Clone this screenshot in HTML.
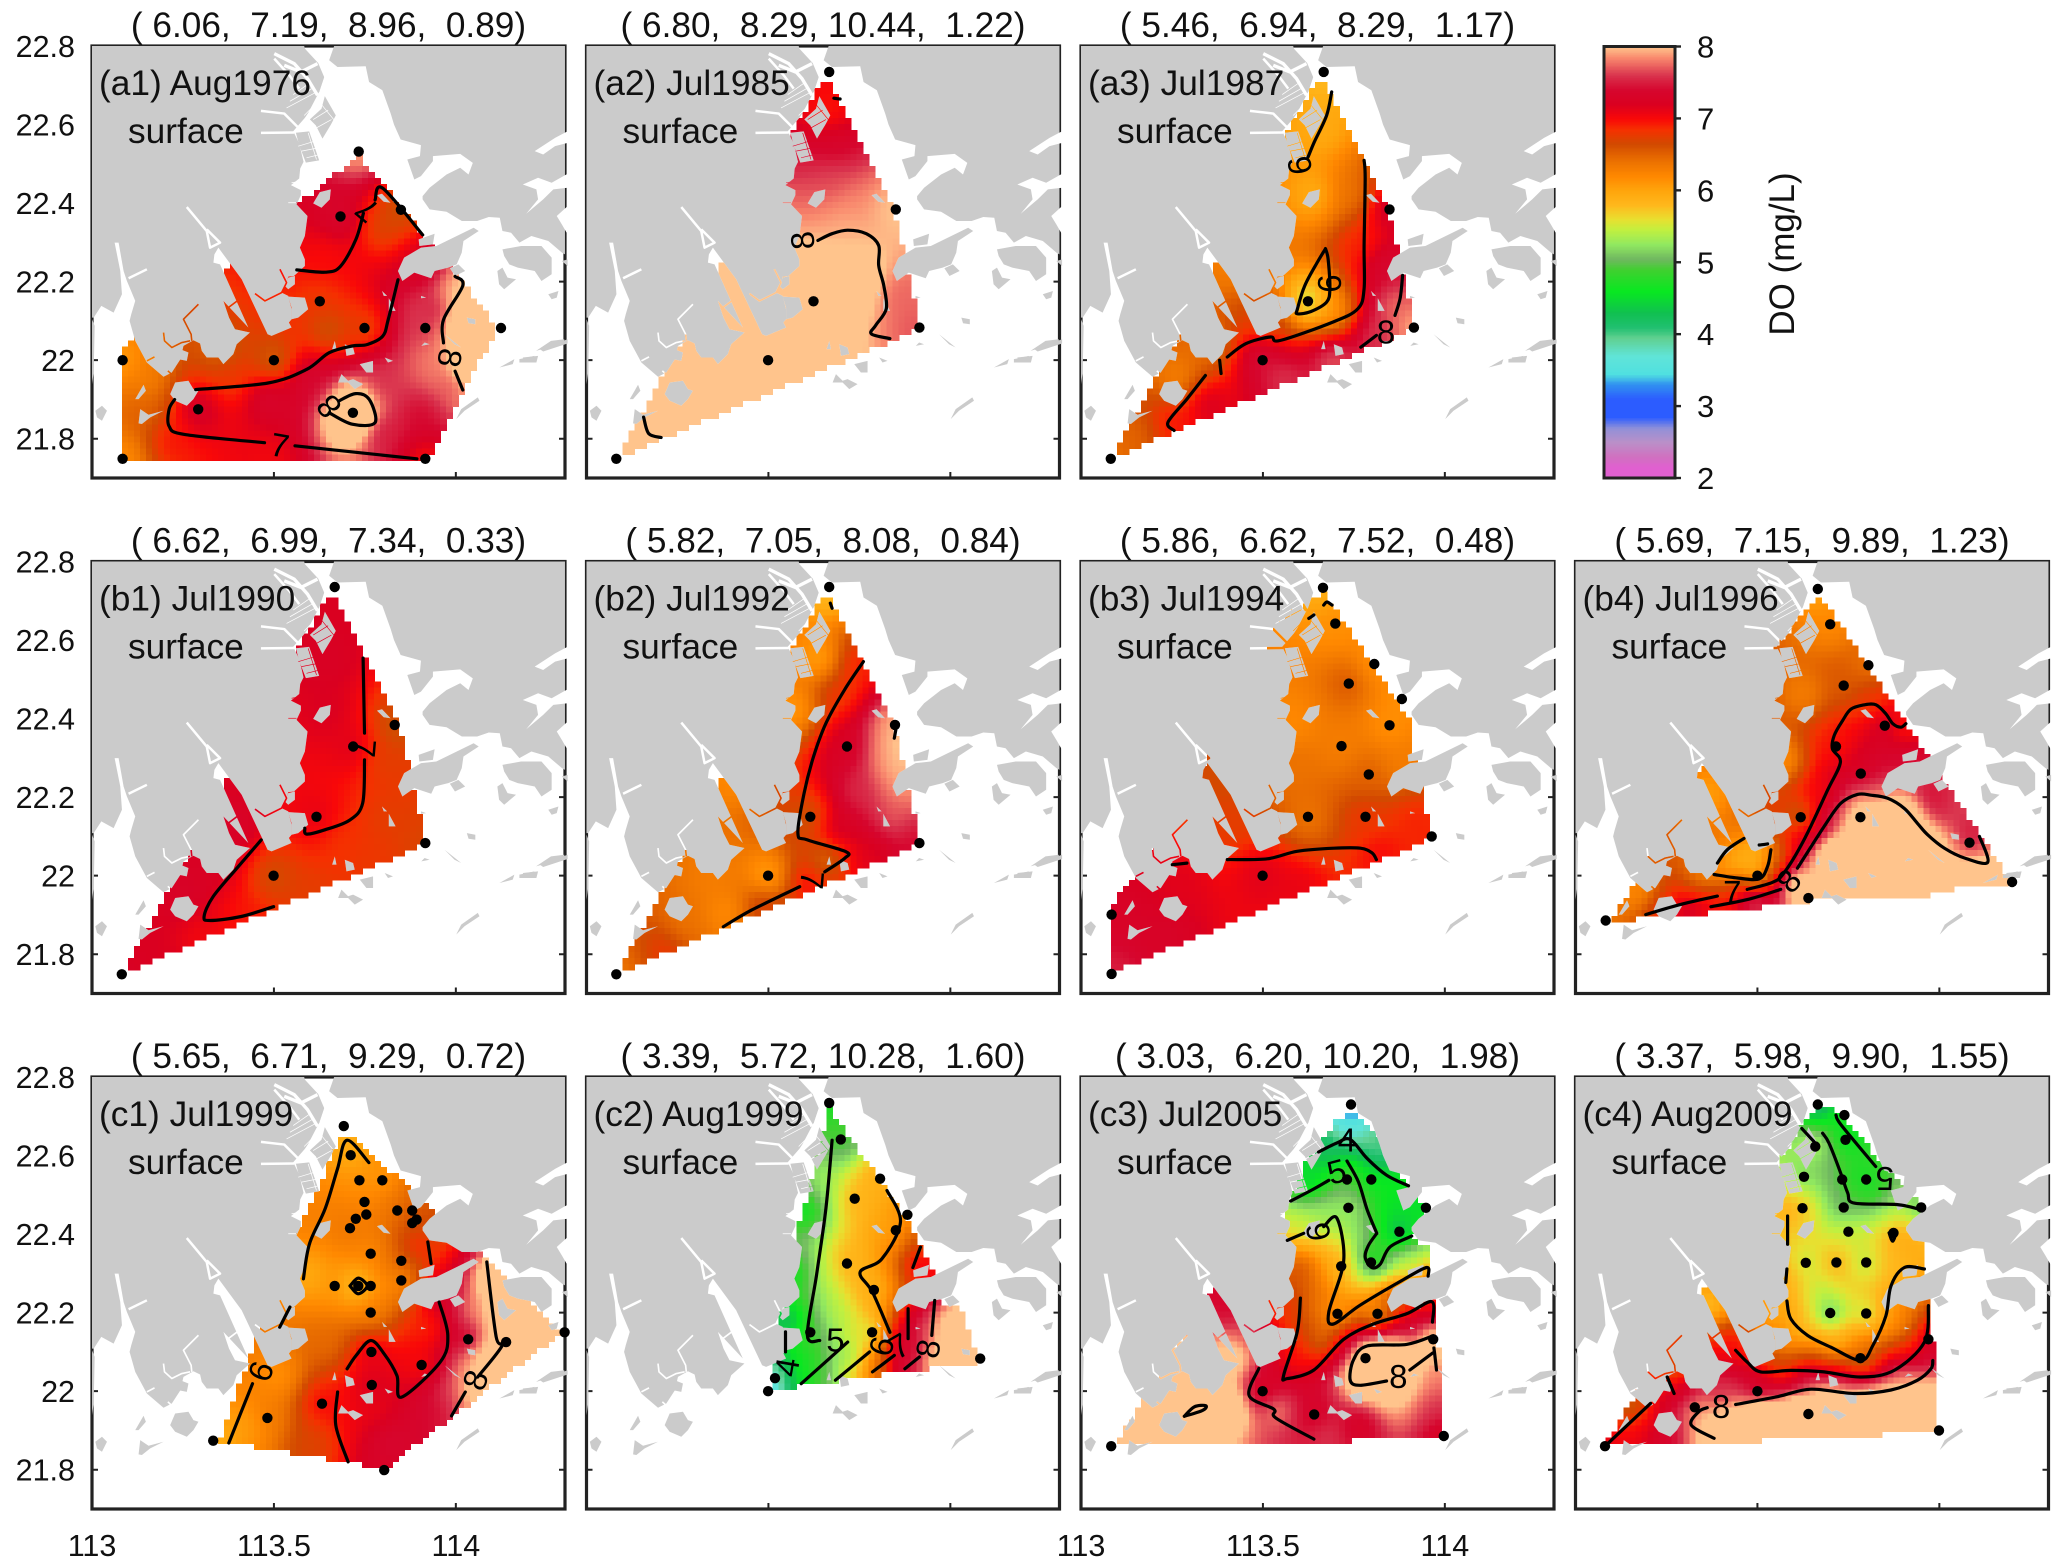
<!DOCTYPE html>
<html lang="en">
<head>
<meta charset="utf-8">
<title>Surface DO maps of the Pearl River Estuary</title>
<style>
html,body{margin:0;padding:0;background:#fff;}
svg{display:block;font-family:"Liberation Sans",sans-serif;}
.ttl{font-size:35.2px;text-anchor:middle;white-space:pre;fill:#111;}
.lbl{font-size:35.3px;white-space:pre;fill:#111;}
.tick{font-size:30.5px;fill:#111;}
.cl{font-size:33px;text-anchor:middle;fill:#000;}
</style>
</head>
<body>
<svg id="figure" xmlns="http://www.w3.org/2000/svg" width="2067" height="1568" viewBox="0 0 2067 1568">
<defs>
<g id="land">
<path d="M0,19 L638,19 L640,27 L680,70 L698,112 L683,157 L650,220 L640,235 L605,275 L623,312 L636,367 L626,387 L623,417 L598,437 L628,452 L628,467 L615,495 L648,530 L640,590 L625,625 L640,660 L640,680 L607,710 L590,712 L585,730 L570,760 L590,770 L600,810 L600,840 L592,850 L600,865 L540,890 L528,885 L450,720 L380,625 L368,645 L365,670 L385,675 L470,865 L395,785 L412,835 L430,870 L475,880 L435,915 L425,945 L395,975 L380,955 L345,955 L330,935 L325,913 L305,903 L275,920 L272,933 L290,940 L285,965 L245,957 L268,957 L240,1000 L215,1013 L165,970 L130,905 L113,845 L118,825 L130,785 L105,725 L95,695 L80,610 L68,610 L85,695 L90,765 L65,820 L28,800 L5,835 L0,835 Z"/>
<path d="M0,840 L8,860 L5,1000 L0,1035 Z"/>
<path d="M728,19 L1422,19 L1422,645 L1413,640 L1372,605 L1321,590 L1285,610 L1260,580 L1234,575 L1226,535 L1193,533 L1158,545 L1112,545 L1066,517 L1015,510 L994,480 L994,470 L1015,445 L1066,405 L1107,385 L1132,405 L1145,370 L1107,343 L1025,350 L1025,365 L989,410 L969,420 L948,360 L986,350 L989,317 L928,300 L908,255 L898,222 L873,152 L833,127 L823,80 L738,82 L713,62 Z"/>
<g transform="translate(448,17.5)">
<path d="M200,85 L250,95 L235,140 Z"/>
<path d="M207,222 L242,190 L252,152 L285,210 L270,238 L245,280 L225,240 Z"/>
<path d="M165,262 L205,258 L235,345 L195,352 L175,300 Z"/>
</g>
<g transform="translate(719,255) scale(1.02,1)">
<path d="M505,375 L560,365 L620,365 L650,400 L650,450 L620,470 L600,440 L550,430 L525,420 L510,395 Z"/>
<path d="M197,440 L215,400 L265,370 L310,365 L420,310 L435,320 L390,350 L385,385 L370,420 L345,430 L305,440 L295,462 L245,445 L210,470 Z"/>
<path d="M258,345 L305,328 L300,360 L260,365 Z"/>
<path d="M350,432 L375,420 L395,440 L365,455 Z M490,440 L505,430 L520,460 L545,465 L510,495 L495,480 Z M640,510 L670,500 L665,520 L650,525 Z M680,410 L697,405 L697,425 Z M135,212 L150,208 L175,235 L155,232 Z M150,500 L165,515 L155,515 Z M170,522 L190,560 L170,560 Z M265,515 L280,520 L265,522 Z M400,580 L425,585 L425,600 L405,597 Z M615,675 L697,645 L697,658 L625,682 Z M565,700 L610,695 L605,715 L570,715 Z"/>
<path fill="#fff" d="M600,80 L660,40 L697,20 L697,55 L660,65 L625,90 Z M565,180 L610,160 L650,175 L697,148 L697,190 L655,195 L625,225 L575,268 L610,225 L605,195 Z M665,275 L697,245 L697,330 L680,300 Z"/>
</g>
<path d="M665,492 L685,458 L718,450 L715,480 L690,505 Z M590,772 L640,775 L650,810 L620,835 L600,840 L600,805 Z M580,740 L590,715 L610,710 L610,735 L590,750 Z M760,915 L785,925 L790,945 L765,950 Z M722,930 L730,905 L735,930 Z M235,1065 L250,1030 L290,1025 L305,1050 L320,1055 L305,1080 L285,1100 L250,1085 Z M130,1080 L155,1037 L162,1055 L140,1080 Z M140,1153 L145,1110 L170,1127 L215,1115 L175,1135 L150,1155 Z M10,1115 L30,1100 L45,1115 L30,1145 L15,1135 Z M740,1030 L750,1005 L770,1025 L785,1020 L815,1035 L790,1050 L770,1030 Z M805,975 L845,965 L845,1000 L825,1000 Z M880,955 L905,965 L890,970 Z M1000,910 L1015,915 L990,920 Z M1060,885 L1110,925 L1090,915 Z M1335,935 L1380,905 L1420,900 L1420,912 L1370,925 Z M1285,960 L1330,950 L1325,970 L1285,970 Z M1225,985 L1270,960 L1265,975 Z M1095,1140 L1110,1110 L1160,1075 L1165,1085 L1120,1115 Z"/>
<g fill="none" stroke="#fff" stroke-linejoin="round">
<path stroke-width="10" d="M548,42 L608,72 L648,117 L678,167 M578,77 L628,97 L678,72"/>
<path stroke-width="7.5" d="M548,57 L593,107 L623,147 M508,214 L578,222 L618,262 M508,280 L608,279 M285,503 L345,575 L355,625 L385,610 L345,570 M110,717 L165,690"/>
<path stroke-width="5" d="M565,690 L585,730 L570,760 L520,785 L490,763 M410,805 L450,775 M320,795 L275,840 L298,885 L300,905 M215,880 L218,905 L240,925 L270,910 L295,905 M165,965 L188,953 M228,995 L255,1020"/>
<path stroke-width="2.2" d="M605,165 L655,130 M595,185 L665,145 M585,205 L670,160 M638,228 L683,182 M665,240 L710,212 M675,265 L720,240 M690,195 L735,250 M620,320 L670,305 M630,335 L680,325 M645,355 L685,345 M650,280 L675,360 M600,430 L630,425 M590,490 L615,490"/>
</g>
</g>
<mask id="water" maskUnits="userSpaceOnUse" x="0" y="0" width="473" height="432">
<rect width="473" height="432" fill="#fff"/>
<use href="#land" transform="scale(.3326,.3328) translate(0,-19)" fill="#000"/>
</mask>
</defs>

<g id="p-a1" transform="translate(92,46)"><text class="ttl" x="236.5" y="-9">( 6.06,  7.19,  8.96,  0.89)</text><text class="lbl" x="7" y="49">(a1) Aug1976</text><text class="lbl" x="36" y="97">surface</text></g>
<g id="p-a2" transform="translate(586.5,46)"><text class="ttl" x="236.5" y="-9">( 6.80,  8.29, 10.44,  1.22)</text><text class="lbl" x="7" y="49">(a2) Jul1985</text><text class="lbl" x="36" y="97">surface</text></g>
<g id="p-a3" transform="translate(1081,46)"><text class="ttl" x="236.5" y="-9">( 5.46,  6.94,  8.29,  1.17)</text><text class="lbl" x="7" y="49">(a3) Jul1987</text><text class="lbl" x="36" y="97">surface</text></g>
<g id="p-b1" transform="translate(92,561.5)"><text class="ttl" x="236.5" y="-9">( 6.62,  6.99,  7.34,  0.33)</text><text class="lbl" x="7" y="49">(b1) Jul1990</text><text class="lbl" x="36" y="97">surface</text></g>
<g id="p-b2" transform="translate(586.5,561.5)"><text class="ttl" x="236.5" y="-9">( 5.82,  7.05,  8.08,  0.84)</text><text class="lbl" x="7" y="49">(b2) Jul1992</text><text class="lbl" x="36" y="97">surface</text></g>
<g id="p-b3" transform="translate(1081,561.5)"><text class="ttl" x="236.5" y="-9">( 5.86,  6.62,  7.52,  0.48)</text><text class="lbl" x="7" y="49">(b3) Jul1994</text><text class="lbl" x="36" y="97">surface</text></g>
<g id="p-b4" transform="translate(1575.5,561.5)"><text class="ttl" x="236.5" y="-9">( 5.69,  7.15,  9.89,  1.23)</text><text class="lbl" x="7" y="49">(b4) Jul1996</text><text class="lbl" x="36" y="97">surface</text></g>
<g id="p-c1" transform="translate(92,1077)"><text class="ttl" x="236.5" y="-9">( 5.65,  6.71,  9.29,  0.72)</text><text class="lbl" x="7" y="49">(c1) Jul1999</text><text class="lbl" x="36" y="97">surface</text></g>
<g id="p-c2" transform="translate(586.5,1077)"><text class="ttl" x="236.5" y="-9">( 3.39,  5.72, 10.28,  1.60)</text><text class="lbl" x="7" y="49">(c2) Aug1999</text><text class="lbl" x="36" y="97">surface</text></g>
<g id="p-c3" transform="translate(1081,1077)"><text class="ttl" x="236.5" y="-9">( 3.03,  6.20, 10.20,  1.98)</text><text class="lbl" x="7" y="49">(c3) Jul2005</text><text class="lbl" x="36" y="97">surface</text></g>
<g id="p-c4" transform="translate(1575.5,1077)"><text class="ttl" x="236.5" y="-9">( 3.37,  5.98,  9.90,  1.55)</text><text class="lbl" x="7" y="49">(c4) Aug2009</text><text class="lbl" x="36" y="97">surface</text></g>

<g id="colorbar"></g>
<text transform="translate(1794,254) rotate(-90)" text-anchor="middle" font-size="35" fill="#111">DO (mg/L)</text>
<g id="axis-labels"></g>
</svg>

<script>
// Colour scale
const cmapValues=[2,2.03,2.15,2.3,2.5,2.7,2.85,3.1,3.3,3.45,3.7,3.95,4.1,4.3,4.6,4.9,5.05,5.25,5.45,5.6,5.8,6,6.2,6.4,6.65,6.85,7,7.2,7.4,7.6,7.85,8];
const cmapColors=["#f0c0f0","#e060d0","#e060d0","#d070c0","#ba90c8","#9090d8","#2c5cff","#2c5cff","#3090f0","#50e0e0","#60e4d8","#60d090","#20c070","#10c050","#08e820","#40d030","#70b860","#90e860","#c0f040","#e8e030","#ffb81c","#ffa50c","#ff8800","#ec7200","#d24a00","#f53000","#f90808","#da0020","#d6062e","#d9324d","#f98a6e","#ffc48c"];
const colorbarTicks=[2,3,4,5,6,7,8];
const lonTicks=[113,113.5,114];
const latTicks=[22.8,22.6,22.4,22.2,22,21.8];
const lonTickLabels=["113","113.5","114"];
const latTickLabels=["22.8","22.6","22.4","22.2","22","21.8"];

// Shared water domains (lon,lat pairs)
const domainEstuary=[113.658,22.72,113.7,22.65,113.84,22.386,113.872,22.275,113.915,22.08,113.082,21.749,113.214,21.97,113.274,22.063,113.368,22.25,113.581,22.606];

// a1 Aug 1976
const a1Stations=13;
const a1Lon=[113.733,113.683,113.849,113.626,113.749,113.916,114.124,113.084,113.5,113.292,113.717,113.084,113.916,113.222,113.8,113.484,113.149,113.904,113.987,113.8,113.904,113.484,113.8,113.642,113.95,113.38,114.05,114.03,114.03,114,113.95,114.08,113.35,113.15,113.65,113.6];
const a1Lat=[22.531,22.366,22.383,22.15,22.082,22.082,22.082,22,22,21.875,21.866,21.749,21.749,21.798,21.942,21.9,21.875,22.239,21.942,21.815,21.858,21.748,22.34,22.256,22,21.96,22.05,22.12,21.99,22.17,22.13,22.08,22.02,21.95,22.08,21.95];
const a1DO=[7.9,7.35,6.6,6.8,6.75,7.6,8.3,6.1,6.55,7.3,8.96,6.2,7,6.95,7.6,7.35,6.5,7.2,7.7,7.5,7.4,7.05,6.7,7,7.8,6.8,8.6,8.6,8.5,8,7.5,8.8,6.5,6.3,6.6,7.4];
const a1Domain=[113.086,21.743,113.919,21.743,114.113,22.082,113.987,22.239,113.909,22.319,113.733,22.522,113.558,22.391,113.379,22.243,113.086,22.036];
const a1Contours=[[113.563,22.23,113.642,22.224,113.683,22.239,113.725,22.307,113.746,22.374],[113.778,22.408,113.799,22.438,113.909,22.319],[113.841,22.205,113.814,22.103,113.799,22.061,113.757,22.04,113.715,22.036,113.652,22.019,113.589,21.976,113.484,21.942,113.285,21.925],[113.227,21.9,113.212,21.875,113.212,21.832,113.254,21.811,113.474,21.79],[113.558,21.782,113.893,21.749],[113.678,21.896,113.725,21.915,113.762,21.9,113.778,21.841,113.715,21.837,113.652,21.866],[113.998,22.213,114.019,22.19,113.966,22.103,113.966,22.044],[113.998,21.972,114.019,21.924]];
const a1LabelLon=[113.757,113.516,113.652,113.982];
const a1LabelLat=[22.383,21.782,21.883,22.006];
const a1LabelText=["7","7","8","8"];
const a1LabelAngle=[-140,10,-130,100];

// a2 Jul 1985
const a2Stations=6;
const a2Lon=[113.667,113.85,113.624,113.499,113.915,113.082,113.667,113.684,113.684,113.718,113.718,113.872,113.718,113.342,113.171];
const a2Lat=[22.734,22.384,22.15,22,22.083,21.749,22.632,22.547,22.462,22.394,22.335,22.157,22.207,21.954,21.83];
const a2DO=[7,8,8.3,8.5,7.7,8.2,6.95,7.35,7.65,7.85,7.95,7.75,8.4,8.5,8.3];
const a2Contours=[[113.636,22.305,113.675,22.322,113.718,22.331,113.769,22.322,113.803,22.292,113.803,22.241,113.817,22.19,113.824,22.131,113.795,22.089,113.783,22.067,113.834,22.055],[113.157,21.855,113.171,21.813,113.205,21.803],[113.68,22.667,113.697,22.665]];
const a2LabelLon=[113.595];
const a2LabelLat=[22.305];
const a2LabelText=["8"];
const a2LabelAngle=[-95];

// a3 Jul 1987
const a3Stations=6;
const a3Lon=[113.667,113.848,113.624,113.499,113.915,113.082,113.658,113.641,113.744,113.778,113.829,113.692,113.521,113.35,113.265,113.35,113.556,113.863,113.692,113.812,113.145,113.402,113.256];
const a3Lat=[22.734,22.384,22.15,22,22.083,21.749,22.59,22.42,22.42,22.292,22.25,22.123,22.097,22.038,21.953,21.885,21.953,22.14,22,22.063,21.8,22.25,21.842];
const a3DO=[5.8,7.3,5.5,7.45,7.95,6.4,5.95,5.95,6.4,6.9,7.4,6.1,6.7,6.4,6.3,7.2,7.6,7.75,7.7,7.6,6.5,6.3,6.95];
const a3Contours=[[113.689,22.683,113.675,22.623,113.641,22.555,113.624,22.517],[113.672,22.284,113.65,22.25,113.615,22.19,113.595,22.131,113.595,22.118,113.632,22.124,113.675,22.148,113.684,22.182,113.679,22.258,113.672,22.284],[113.778,22.509,113.781,22.462,113.778,22.292,113.778,22.182,113.761,22.131,113.692,22.097,113.547,22.05,113.521,22.059,113.453,22.042,113.402,22.008],[113.381,22,113.385,21.966],[113.342,21.961,113.291,21.901,113.239,21.842,113.256,21.821],[113.884,22.216,113.877,22.157,113.863,22.114],[113.812,22.063,113.769,22.033]];
const a3LabelLon=[113.602,113.684,113.838];
const a3LabelLat=[22.496,22.195,22.071];
const a3LabelText=["6","6","8"];
const a3LabelAngle=[-100,-90,0];

// b1 Jul 1990
const b1Stations=7;
const b1Lon=[113.667,113.832,113.718,113.617,113.916,113.499,113.082,113.65,113.65,113.803,113.821,113.684,113.393,113.256,113.342,113.598,113.427,113.308,113.171,113.752];
const b1Lat=[22.735,22.384,22.329,22.15,22.083,22,21.749,22.55,22.422,22.295,22.142,22.083,22.125,21.955,22.04,21.955,21.887,21.845,21.803,22.04];
const b1DO=[7.2,6.6,7.15,7.1,6.7,6.65,7.25,7.25,7.2,6.75,6.75,6.85,7.3,7.3,7.25,6.75,6.95,7.05,7.2,6.8];
const b1Contours=[[113.745,22.554,113.749,22.363],[113.749,22.295,113.744,22.185,113.709,22.142,113.641,22.117,113.59,22.106,113.585,22.121],[113.465,22.091,113.402,22.023,113.333,21.947,113.308,21.896,113.325,21.886,113.41,21.896,113.499,21.921]];
const b1LabelLon=[113.747];
const b1LabelLat=[22.325];
const b1LabelText=["7"];
const b1LabelAngle=[95];

// b2 Jul 1992
const b2Stations=7;
const b2Lon=[113.667,113.848,113.716,113.615,113.915,113.499,113.082,113.641,113.573,113.692,113.744,113.829,113.863,113.744,113.692,113.846,113.778,113.658,113.35,113.385,113.265,113.487,113.607,113.402,113.222,113.86,113.87];
const b2Lat=[22.735,22.384,22.329,22.15,22.083,22,21.749,22.55,22.422,22.465,22.533,22.32,22.278,22.21,22.125,22.159,22.04,22.04,21.998,21.904,21.87,21.921,21.981,22.252,21.811,22.33,22.23];
const b2DO=[5.8,7.95,7.25,6.6,7.4,6.05,6.4,6.05,6.1,6.8,6.9,7.9,8,7.55,7.25,7.7,7.15,6.5,6.3,6.2,6.4,6.75,7,6.2,6.8,8.1,7.9];
const b2Contours=[[113.761,22.545,113.709,22.473,113.658,22.388,113.624,22.303,113.598,22.21,113.581,22.108,113.607,22.091,113.713,22.061,113.709,22.044,113.655,22.01],[113.586,21.972,113.453,21.912,113.376,21.87],[113.85,22.371,113.846,22.35],[113.67,22.694,113.675,22.681]];
const b2LabelLon=[113.619];
const b2LabelLat=[21.989];
const b2LabelText=["7"];
const b2LabelAngle=[95];

// b3 Jul 1994
const b3Stations=14;
const b3Lon=[113.665,113.699,113.806,113.736,113.882,113.848,113.716,113.791,113.624,113.782,113.964,113.499,113.084,113.084,113.823,113.914,113.274,113.594,113.229,113.411,113.393,113.585,113.585,113.878];
const b3Lat=[22.733,22.642,22.539,22.489,22.45,22.383,22.33,22.258,22.15,22.15,22.1,22,21.901,21.75,22.053,22.138,21.969,21.969,21.858,22.138,22.257,22.274,22.392,22.291];
const b3DO=[5.9,6.15,6.15,6.55,6.15,6.15,6.3,6.5,6.4,6.8,6.9,7.15,7.3,7.5,7,6.9,7.15,7.1,7.3,6.75,6.65,6.4,6.2,6.3];
const b3Domain=[113.667,22.723,113.9,22.4,113.914,22.308,113.941,22.223,113.955,22.092,113.087,21.755,113.087,21.93,113.137,21.99,113.338,22.274,113.548,22.647];
const b3Contours=[[113.402,22.041,113.512,22.043,113.594,22.062,113.695,22.07,113.768,22.07,113.8,22.058,113.812,22.041],[113.251,22.028,113.291,22.032],[113.667,22.689,113.676,22.697,113.69,22.689],[113.626,22.655,113.64,22.664]];
const b3LabelLon=[];
const b3LabelLat=[];
const b3LabelText=[];
const b3LabelAngle=[];

// b4 Jul 1996
const b4Stations=14;
const b4Lon=[113.666,113.7,113.805,113.737,113.85,113.716,113.784,113.619,113.783,114.083,113.5,114.2,113.64,113.083,113.794,113.995,113.904,114.041,113.95,113.628,113.683,113.583,113.647,113.555,113.72,113.628,113.445,113.353,113.491,113.307,113.234,113.353,113.427,113.463,113.509,113.555,113.573,113.628,113.372,113.17,113.904,113.904,113.812,113.8,113.9,113.7,113.6,113.75,113.85,114,114.1,113.95,113.98,114.08];
const b4Lat=[22.73,22.64,22.536,22.484,22.382,22.329,22.26,22.149,22.149,22.084,22,21.984,21.943,21.886,22.209,22.159,22.142,22.057,22.04,22.083,22.209,22.057,22.125,21.998,22.159,22.024,21.965,21.931,21.939,21.905,21.897,21.998,22.015,22.04,22.057,22.04,22.294,22.462,22.209,21.956,22.294,22.378,22.437,22.1,22.05,22.05,21.98,21.97,21.97,21.99,21.99,22.1,22.2,22.11];
const b4DO=[6,6.2,6.4,6.55,7.3,6.95,7.2,6.4,8.4,7.5,5.7,8.5,8.4,6.4,7.8,7.5,8.6,7.95,8.8,7.2,7,6.8,7.1,7,7.6,7.9,7,7.1,7.85,7.3,6.9,6.25,5.95,5.8,5.75,6.3,6.15,6.3,6.05,6.2,7.4,6.9,6.8,8.9,8.9,8.8,8.6,8.9,8.9,8.8,8.6,8.5,7.4,7.45];
const b4Domain=[113.67,22.716,113.968,22.302,114.004,22.251,114.179,22.011,114.188,21.969,114.046,21.969,113.931,21.943,113.702,21.943,113.583,21.927,113.362,21.905,113.096,21.884,113.17,21.99,113.339,22.26,113.555,22.589];
const b4Contours=[[113.908,22.387,113.894,22.378,113.872,22.387,113.853,22.412,113.826,22.435,113.794,22.435,113.757,22.424,113.734,22.395,113.711,22.357,113.706,22.323,113.728,22.289,113.693,22.218,113.628,22.091,113.573,22.007,113.541,21.983,113.472,21.965],[113.39,21.948,113.289,21.927,113.193,21.901],[113.61,22.019,113.683,22.125,113.729,22.184,113.775,22.207,113.812,22.205,113.858,22.197,113.904,22.171,113.94,22.133,113.968,22.104,114.014,22.07,114.069,22.045,114.133,22.034,114.11,22.1],[113.564,21.965,113.472,21.939,113.372,21.921],[113.463,22.095,113.417,22.066,113.39,22.032],[113.381,22.003,113.445,21.994,113.505,21.992,113.528,22.024,113.537,22.066],[113.505,22.078,113.528,22.081]];
const b4LabelLon=[113.431,113.587];
const b4LabelLat=[21.956,21.986];
const b4LabelText=["7","8"];
const b4LabelAngle=[0,-50];

// c1 Jul 1999
const c1Stations=29;
const c1Lon=[113.692,113.711,113.735,113.798,113.749,113.754,113.725,113.839,113.88,113.709,113.88,113.892,113.766,113.85,113.85,113.667,113.732,113.766,113.766,113.768,114.034,114.138,113.906,113.769,113.632,113.482,113.333,113.803,114.299,113.598,114.06,113.957,114.06,113.94,113.82,113.598,113.513,113.65,113.427,113.889,113.769,113.991,113.923,114.197,114.15,114.12,114.17,114.08,114.05];
const c1Lat=[22.675,22.601,22.537,22.537,22.482,22.45,22.439,22.46,22.46,22.415,22.428,22.437,22.35,22.332,22.282,22.268,22.268,22.268,22.2,22.1,22.132,22.125,22.067,22.016,21.968,21.932,21.874,21.799,22.15,22.295,22.21,22.252,22.083,21.955,21.87,21.87,22.04,22.125,21.913,22.371,21.955,21.989,22.159,22.083,22.2,22.28,22.1,22.08,22];
const c1DO=[5.85,5.95,6.1,6.1,6.2,6.3,6.3,6.4,6.5,6.35,6.6,6.7,6.2,6.5,6.2,6.1,5.65,6.1,6.3,7.15,7.3,8.2,7,7.2,7,6.3,5.9,7.3,9,5.95,7.85,7.35,7.85,7.4,7.4,6.7,6.15,6.45,6.05,6.95,7.1,7.65,6.9,8.4,8.8,8.6,8.8,8.4,8.2];
const c1Domain=[113.692,22.66,113.855,22.533,113.889,22.49,113.954,22.448,114.06,22.354,114.291,22.151,113.803,21.803,113.35,21.873,113.444,22.117,113.564,22.405];
const c1Contours=[[113.581,22.286,113.598,22.376,113.641,22.465,113.675,22.567,113.701,22.639,113.761,22.582],[113.376,21.868,113.441,22.019],[113.516,22.163,113.544,22.214],[113.709,22.268,113.732,22.288,113.756,22.268,113.732,22.248,113.709,22.268],[113.923,22.38,113.932,22.325],[113.954,22.227,113.978,22.142,113.957,22.074,113.851,21.985,113.838,22.04,113.803,22.095,113.766,22.129,113.726,22.091,113.701,22.057],[113.675,21.998,113.67,21.913,113.704,21.82],[114.085,22.329,114.111,22.138,114.128,22.117,114.06,22.036],[114.026,21.998,113.988,21.937]];
const c1LabelLon=[113.465,114.055];
const c1LabelLat=[22.05,22.028];
const c1LabelText=["6","8"];
const c1LabelAngle=[-70,-70];

// c2 Aug 1999
const c2Stations=13;
const c2Lon=[113.667,113.699,113.807,113.737,113.882,113.85,113.716,113.79,113.615,113.785,114.082,113.518,113.499,113.607,113.658,113.581,113.641,113.556,113.607,113.573,113.692,113.726,113.658,113.709,113.795,113.863,113.915,113.897,113.983,113.932,113.863,113.897,114.02,114.05,113.98];
const c2Lat=[22.734,22.641,22.541,22.49,22.449,22.41,22.325,22.258,22.15,22.15,22.083,22.033,22,22.466,22.507,22.295,22.295,22.176,22.083,22.04,22.19,22.087,22.04,22.04,22.057,22.125,22.33,22.134,22.125,22.142,22.057,22.396,22.15,22.09,22.07];
const c2DO=[4.7,4.9,5.9,5.85,6.1,6,5.85,5.9,4.9,5.5,8.2,3.6,3.4,4.6,5.3,4.6,5.4,4.2,4.7,4.5,5.4,5.3,4.9,5.6,6.4,7.4,7.1,7.3,8.1,7.75,7.5,6.6,8.6,8.8,8.4];
const c2Domain=[113.667,22.72,113.897,22.414,113.957,22.295,113.94,22.235,114.026,22.214,114.077,22.074,113.692,22.028,113.504,22.002,113.521,22.125,113.573,22.38];
const c2Contours=[[113.675,22.639,113.658,22.465,113.632,22.295,113.607,22.142,113.641,22.129],[113.718,22.125,113.59,22.019],[113.826,22.511,113.863,22.431,113.812,22.337,113.752,22.303,113.786,22.252,113.834,22.15],[113.778,22.1,113.684,22.028],[113.918,22.367,113.897,22.315],[113.884,22.21,113.884,22.134],[113.846,22.091,113.786,22.049],[113.957,22.231,113.949,22.142],[113.915,22.087,113.875,22.057],[113.547,22.151,113.547,22.1]];
const c2LabelLon=[113.684,113.812,113.86,113.94,113.552];
const c2LabelLat=[22.129,22.114,22.114,22.108,22.061];
const c2LabelText=["5","6","7","8","4"];
const c2LabelAngle=[0,-75,-30,-80,-80];

// c3 Jul 2005
const c3Stations=16;
const c3Lon=[113.742,113.731,113.798,113.735,113.948,113.875,113.797,113.715,113.705,113.815,113.968,113.782,113.499,113.641,113.997,113.083,113.74,113.676,113.813,113.63,113.603,113.658,113.603,113.585,113.767,113.904,113.859,113.63,113.667,113.585,113.53,113.859,113.968,113.722,113.904,113.402,113.539,113.968,113.676,113.767,113.448,113.393,113.266,113.42,113.859,113.859,113.95,113.8,113.85,113.9,113.78];
const c3Lat=[22.73,22.539,22.539,22.467,22.467,22.406,22.328,22.318,22.197,22.197,22.132,22.084,22,21.941,21.886,21.86,22.671,22.61,22.61,22.523,22.428,22.463,22.306,22.219,22.306,22.323,22.463,22.219,22.132,22.089,22.028,22.219,22.219,22.115,22.15,21.958,21.958,21.958,21.889,21.915,22.132,22.219,22.045,22.089,22.089,22.019,22.045,22.07,22.07,22.08,22.04];
const c3DO=[3,5,4.6,5.3,4.5,4.2,4.4,5.9,6,6.1,8.3,8.5,7.2,7.3,7.2,8.5,3.6,4.2,3.95,4.4,5.5,5.3,6.6,6.85,5.5,5.45,4.5,6.4,6.4,6.95,7.3,6.7,7,7.2,7.35,8.6,7.85,7.6,7.6,7.25,7.7,7.4,8.6,8.3,8.6,8.2,7.8,8.7,8.8,8.7,8.6];
const c3Domain=[113.742,22.719,113.822,22.636,113.895,22.523,113.95,22.463,113.913,22.393,113.959,22.358,113.963,22.236,113.973,22.228,113.991,21.993,113.994,21.886,113.795,21.876,113.443,21.865,113.092,21.865,113.165,21.971,113.348,22.245,113.548,22.419,113.576,22.489,113.617,22.576,113.703,22.689];
const c3Contours=[[113.653,22.609,113.703,22.632,113.74,22.641,113.786,22.593,113.84,22.55,113.9,22.523],[113.576,22.484,113.64,22.515,113.681,22.537],[113.731,22.586,113.763,22.532,113.786,22.463,113.813,22.402],[113.909,22.395,113.849,22.367,113.822,22.323,113.799,22.315,113.781,22.341,113.79,22.371,113.813,22.402],[113.567,22.384,113.612,22.402],[113.667,22.419,113.703,22.441,113.722,22.332,113.681,22.202,113.694,22.171,113.767,22.219,113.886,22.284,113.95,22.315,113.954,22.293],[113.603,22.237,113.594,22.15,113.557,22.041,113.567,22.032,113.64,22.054,113.722,22.132,113.804,22.171,113.895,22.197,113.964,22.228,113.966,22.176],[113.489,22.058,113.462,21.989,113.53,21.954,113.535,21.932,113.64,21.878],[113.968,22.141,113.895,22.119,113.786,22.115,113.749,22.08,113.74,22.028,113.767,22.015,113.84,22.026],[113.904,22.054,113.966,22.097],[113.97,22.11,113.977,22.054],[113.284,21.936,113.311,21.96,113.343,21.963,113.334,21.951,113.284,21.936]];
const c3LabelLon=[113.731,113.703,113.653,113.872];
const c3LabelLat=[22.638,22.558,22.406,22.036];
const c3LabelText=["4","5","6","8"];
const c3LabelAngle=[0,-15,-100,0];

// c4 Aug 2009
const c4Stations=24;
const c4Lon=[113.666,113.739,113.742,113.659,113.628,113.733,113.799,113.624,113.737,113.95,113.75,113.874,113.633,113.717,113.799,113.7,113.799,113.97,113.783,113.5,113.328,113.64,113.999,113.081,113.766,113.812,113.683,113.592,113.858,113.922,113.858,113.583,113.674,113.628,113.858,113.72,113.583,113.573,113.904,113.922,113.776,113.583,113.959,113.628,113.766,113.904,113.95,113.399,113.289,113.17,113.243,113.427,113.381,113.427,113.537,113.271,113.151,113.372,113.5,113.6,113.75,113.85,113.95,113.45,113.4,113.7,113.95,113.55,113.8];
const c4Lat=[22.73,22.703,22.64,22.623,22.546,22.539,22.539,22.466,22.468,22.468,22.406,22.403,22.327,22.328,22.328,22.199,22.198,22.132,22.084,22,21.959,21.942,21.9,21.86,22.547,22.505,22.589,22.462,22.437,22.378,22.327,22.294,22.251,22.167,22.184,22.133,22.125,22.074,22.167,22.108,22.057,22.057,22.066,22.024,22.015,22.024,21.956,21.99,21.998,21.905,21.88,22.26,22.226,22.125,22.192,22.057,21.956,21.889,21.93,21.92,21.92,21.95,21.92,21.9,21.9,21.97,21.98,21.9,21.96];
const c4DO=[4,4.7,4.5,5.5,5.2,5,4.7,5.7,5,5.1,5.5,5.95,5.45,5.85,5.4,4.95,5.4,7.3,6.3,7.3,7.9,8.9,8.6,7.1,4.6,4.7,5.1,5.9,5.4,5.95,5.8,5.85,5.4,5.7,6,5.8,6.1,6.6,6.3,6.9,6.7,6.85,7.5,7.55,7.8,7.9,8.8,7.6,7.25,7.05,7.35,6.5,5.7,7,6,6.6,6.5,8.1,8.8,8.9,8.9,8.9,8.8,8.6,8.5,8.5,8.6,8.8,8.7];
const c4Domain=[113.67,22.72,113.711,22.72,113.904,22.513,113.959,22.462,113.959,22.344,113.972,22.235,113.982,22.125,113.995,22.015,113.995,21.895,113.775,21.887,113.546,21.876,113.326,21.867,113.083,21.865,113.151,21.969,113.353,22.26,113.555,22.572,113.619,22.673];
const c4Contours=[[113.716,22.703,113.73,22.678,113.825,22.572],[113.679,22.657,113.697,22.631,113.729,22.555,113.748,22.505,113.766,22.479,113.885,22.475,113.95,22.462],[113.622,22.669,113.656,22.635],[113.583,22.446,113.583,22.374],[113.581,22.311,113.578,22.277],[113.581,22.23,113.592,22.184,113.638,22.142,113.702,22.112,113.784,22.078,113.817,22.116,113.853,22.192,113.867,22.268,113.904,22.315,113.959,22.311],[113.44,22.104,113.472,22.074,113.509,22.049,113.592,22.053,113.683,22.049,113.784,22.036,113.876,22.053,113.959,22.125,113.97,22.218],[113.081,21.86,113.206,21.969],[113.252,22.036,113.271,21.994],[113.44,21.966,113.555,21.986,113.647,22.005,113.766,21.994,113.867,22.003,113.94,22.028,113.977,22.057,113.982,22.078],[113.362,21.958,113.339,21.948,113.318,21.914,113.381,21.88],[113.862,22.403,113.881,22.408,113.872,22.382,113.862,22.403]];
const c4LabelLon=[113.4,113.85];
const c4LabelLat=[21.96,22.543];
const c4LabelText=["8","5"];
const c4LabelAngle=[0,180];

const panels=[
 {id:"a1",lon:a1Lon,lat:a1Lat,dox:a1DO,n:a1Stations,dom:a1Domain,con:a1Contours,lLon:a1LabelLon,lLat:a1LabelLat,lTxt:a1LabelText,lAng:a1LabelAngle},
 {id:"a2",lon:a2Lon,lat:a2Lat,dox:a2DO,n:a2Stations,dom:domainEstuary,con:a2Contours,lLon:a2LabelLon,lLat:a2LabelLat,lTxt:a2LabelText,lAng:a2LabelAngle},
 {id:"a3",lon:a3Lon,lat:a3Lat,dox:a3DO,n:a3Stations,dom:domainEstuary,con:a3Contours,lLon:a3LabelLon,lLat:a3LabelLat,lTxt:a3LabelText,lAng:a3LabelAngle},
 {id:"b1",lon:b1Lon,lat:b1Lat,dox:b1DO,n:b1Stations,dom:domainEstuary,con:b1Contours,lLon:b1LabelLon,lLat:b1LabelLat,lTxt:b1LabelText,lAng:b1LabelAngle},
 {id:"b2",lon:b2Lon,lat:b2Lat,dox:b2DO,n:b2Stations,dom:domainEstuary,con:b2Contours,lLon:b2LabelLon,lLat:b2LabelLat,lTxt:b2LabelText,lAng:b2LabelAngle},
 {id:"b3",lon:b3Lon,lat:b3Lat,dox:b3DO,n:b3Stations,dom:b3Domain,con:b3Contours,lLon:b3LabelLon,lLat:b3LabelLat,lTxt:b3LabelText,lAng:b3LabelAngle},
 {id:"b4",lon:b4Lon,lat:b4Lat,dox:b4DO,n:b4Stations,dom:b4Domain,con:b4Contours,lLon:b4LabelLon,lLat:b4LabelLat,lTxt:b4LabelText,lAng:b4LabelAngle},
 {id:"c1",lon:c1Lon,lat:c1Lat,dox:c1DO,n:c1Stations,dom:c1Domain,con:c1Contours,lLon:c1LabelLon,lLat:c1LabelLat,lTxt:c1LabelText,lAng:c1LabelAngle},
 {id:"c2",lon:c2Lon,lat:c2Lat,dox:c2DO,n:c2Stations,dom:c2Domain,con:c2Contours,lLon:c2LabelLon,lLat:c2LabelLat,lTxt:c2LabelText,lAng:c2LabelAngle},
 {id:"c3",lon:c3Lon,lat:c3Lat,dox:c3DO,n:c3Stations,dom:c3Domain,con:c3Contours,lLon:c3LabelLon,lLat:c3LabelLat,lTxt:c3LabelText,lAng:c3LabelAngle},
 {id:"c4",lon:c4Lon,lat:c4Lat,dox:c4DO,n:c4Stations,dom:c4Domain,con:c4Contours,lLon:c4LabelLon,lLat:c4LabelLat,lTxt:c4LabelText,lAng:c4LabelAngle}
];

const NS="http://www.w3.org/2000/svg";
const PW=473,PH=432,LON0=113,LON1=114.3,LAT0=21.7,LAT1=22.8;
const CELL_LON=0.0165,CELL_LAT=0.0153;
const NX=Math.ceil((LON1-LON0)/CELL_LON),NY=Math.ceil((LAT1-LAT0)/CELL_LAT);
const xAxis=lon=>(lon-LON0)/(LON1-LON0)*PW;
const yAxis=lat=>(LAT1-lat)/(LAT1-LAT0)*PH;

function mk(tag,attrs,parent){
  const el=document.createElementNS(NS,tag);
  for(const k in attrs)el.setAttribute(k,attrs[k]);
  parent.appendChild(el);
  return el;
}
const hexRgb=h=>[parseInt(h.slice(1,3),16),parseInt(h.slice(3,5),16),parseInt(h.slice(5,7),16)];
const cmapRgb=cmapColors.map(hexRgb);
function colorOf(v){
  if(v<=cmapValues[0])return cmapColors[0];
  const last=cmapValues.length-1;
  if(v>=cmapValues[last])return cmapColors[last];
  let i=0;
  while(v>cmapValues[i+1])i++;
  const t=(v-cmapValues[i])/(cmapValues[i+1]-cmapValues[i]);
  const a=cmapRgb[i],b=cmapRgb[i+1];
  return "rgb("+Math.round(a[0]+(b[0]-a[0])*t)+","+Math.round(a[1]+(b[1]-a[1])*t)+","+Math.round(a[2]+(b[2]-a[2])*t)+")";
}
function inside(poly,lon,lat){
  let c=false;
  for(let i=0,j=poly.length-2;i<poly.length;j=i,i+=2){
    const xi=poly[i],yi=poly[i+1],xj=poly[j],yj=poly[j+1];
    if((yi>lat)!==(yj>lat)&&lon<(xj-xi)*(lat-yi)/(yj-yi)+xi)c=!c;
  }
  return c;
}
function fieldAt(p,lon,lat){
  let sw=0,sv=0;
  for(let i=0;i<p.lon.length;i++){
    const dx=p.lon[i]-lon,dy=p.lat[i]-lat;
    const d2=dx*dx+dy*dy+4e-4;
    const w=1/(d2*Math.sqrt(d2));
    sw+=w;sv+=w*p.dox[i];
  }
  return sv/sw;
}
function smoothGrid(g){
  const out=new Float64Array(g.length);
  for(let i=0;i<NX;i++){
    for(let j=0;j<NY;j++){
      let s=0,n=0;
      for(let a=-1;a<=1;a++){
        for(let b=-1;b<=1;b++){
          const u=i+a,v=j+b;
          if(u<0||v<0||u>=NX||v>=NY)continue;
          s+=g[u*NY+v];n++;
        }
      }
      out[i*NY+j]=s/n;
    }
  }
  return out;
}
function smoothPath(c){
  const pts=[];
  for(let i=0;i<c.length;i+=2)pts.push([xAxis(c[i]),yAxis(c[i+1])]);
  let d="M"+pts[0][0].toFixed(1)+","+pts[0][1].toFixed(1);
  for(let i=0;i<pts.length-1;i++){
    const p0=pts[Math.max(i-1,0)],p1=pts[i],p2=pts[i+1],p3=pts[Math.min(i+2,pts.length-1)];
    const c1x=p1[0]+(p2[0]-p0[0])/6,c1y=p1[1]+(p2[1]-p0[1])/6;
    const c2x=p2[0]-(p3[0]-p1[0])/6,c2y=p2[1]-(p3[1]-p1[1])/6;
    d+="C"+c1x.toFixed(1)+","+c1y.toFixed(1)+" "+c2x.toFixed(1)+","+c2y.toFixed(1)+" "+p2[0].toFixed(1)+","+p2[1].toFixed(1);
  }
  return d;
}

panels.forEach(p=>{
  const root=document.getElementById("p-"+p.id);
  const first=root.firstChild;
  const layer=document.createElementNS(NS,"g");
  root.insertBefore(layer,first);

  const bg=mk("rect",{width:PW,height:PH,fill:"#fff"},layer);
  
  

  const frame=mk("rect",{width:PW,height:PH,fill:"none",stroke:"#222","stroke-width":3.2},layer);
  
  

  lonTicks.forEach(t=>{
    const x=xAxis(t);
    const tk=mk("path",{d:"M"+x+","+PH+"v-6M"+x+",0v6",stroke:"#222","stroke-width":2,fill:"none"},layer);
    
    
  });
  latTicks.forEach(t=>{
    const y=yAxis(t);
    const tk=mk("path",{d:"M0,"+y+"h6M"+PW+","+y+"h-6",stroke:"#222","stroke-width":2,fill:"none"},layer);
    
    
  });

  const land=mk("use",{href:"#land",transform:"scale(.3326,.3328) translate(0,-19)",fill:"#cbcbcb"},layer);
  
  

  const field=mk("g",{mask:"url(#water)","shape-rendering":"crispEdges"},layer);
  
  
  const cw=xAxis(LON0+CELL_LON)-xAxis(LON0);
  const ch=yAxis(LAT1-CELL_LAT)-yAxis(LAT1);
  let grid=new Float64Array(NX*NY);
  for(let i=0;i<NX;i++){
    for(let j=0;j<NY;j++){
      grid[i*NY+j]=fieldAt(p,LON0+(i+0.5)*CELL_LON,LAT1-(j+0.5)*CELL_LAT);
    }
  }
  grid=smoothGrid(smoothGrid(grid));
  for(let i=0;i<NX;i++){
    const lon=LON0+(i+0.5)*CELL_LON;
    for(let j=0;j<NY;j++){
      const lat=LAT1-(j+0.5)*CELL_LAT;
      if(!inside(p.dom,lon,lat))continue;
      const cell=mk("rect",{x:(xAxis(lon)-cw/2).toFixed(2),y:(yAxis(lat)-ch/2).toFixed(2),width:(cw+0.6).toFixed(2),height:(ch+0.6).toFixed(2),fill:colorOf(grid[i*NY+j])},field);
      
      
    }
  }

  p.con.forEach(c=>{
    const line=mk("path",{d:smoothPath(c),fill:"none",stroke:"#000","stroke-width":3.2,"stroke-linejoin":"round","stroke-linecap":"round"},layer);
    
    
  });

  p.lTxt.forEach((t,i)=>{
    const x=xAxis(p.lLon[i]),y=yAxis(p.lLat[i]);
    const tx=mk("text",{class:"cl",x:x,y:y+11,transform:"rotate("+p.lAng[i]+" "+x+" "+y+")"},layer);
    tx.textContent=t;
    
    
  });

  for(let i=0;i<p.n;i++){
    const dot=mk("circle",{cx:xAxis(p.lon[i]).toFixed(1),cy:yAxis(p.lat[i]).toFixed(1),r:5.2,fill:"#000"},layer);
    
    
  }
});

// Shared axis tick labels
const axisLabels=document.getElementById("axis-labels");
const rowTops=[46,561.5,1077];
const colLefts=[92,1081];
rowTops.forEach(top=>{
  latTicks.forEach((t,i)=>{
    const tx=mk("text",{class:"tick",x:75,y:top+yAxis(t)+11,"text-anchor":"end"},axisLabels);
    tx.textContent=latTickLabels[i];
    
    
  });
});
colLefts.forEach(left=>{
  lonTicks.forEach((t,i)=>{
    const tx=mk("text",{class:"tick",x:left+xAxis(t),y:1556,"text-anchor":"middle"},axisLabels);
    tx.textContent=lonTickLabels[i];
    
    
  });
});

// Colour bar
const cb=document.getElementById("colorbar");
const CBX=1604,CBW=71,CBT=46.5,CBH=431.5;
const cbY=v=>CBT+(8-v)/6*CBH;
const CB_STEP=0.02;
for(let k=0;k<300;k++){
  const v=2+k*CB_STEP;
  const seg=mk("rect",{x:CBX,y:(cbY(v+CB_STEP)).toFixed(2),width:CBW,height:(CBH/300+0.6).toFixed(2),fill:colorOf(v+CB_STEP/2),"shape-rendering":"crispEdges"},cb);
  
  
}
const cbFrame=mk("rect",{x:CBX,y:CBT,width:CBW,height:CBH,fill:"none",stroke:"#222","stroke-width":3},cb);


colorbarTicks.forEach(t=>{
  const y=cbY(t);
  const tk=mk("path",{d:"M"+(CBX+CBW)+","+y+"h6",stroke:"#222","stroke-width":2.4},cb);
  
  
  const tx=mk("text",{x:1697,y:y+11,"font-size":31,fill:"#111"},cb);
  tx.textContent=String(t);
  
  
});
</script>
</body>
</html>
